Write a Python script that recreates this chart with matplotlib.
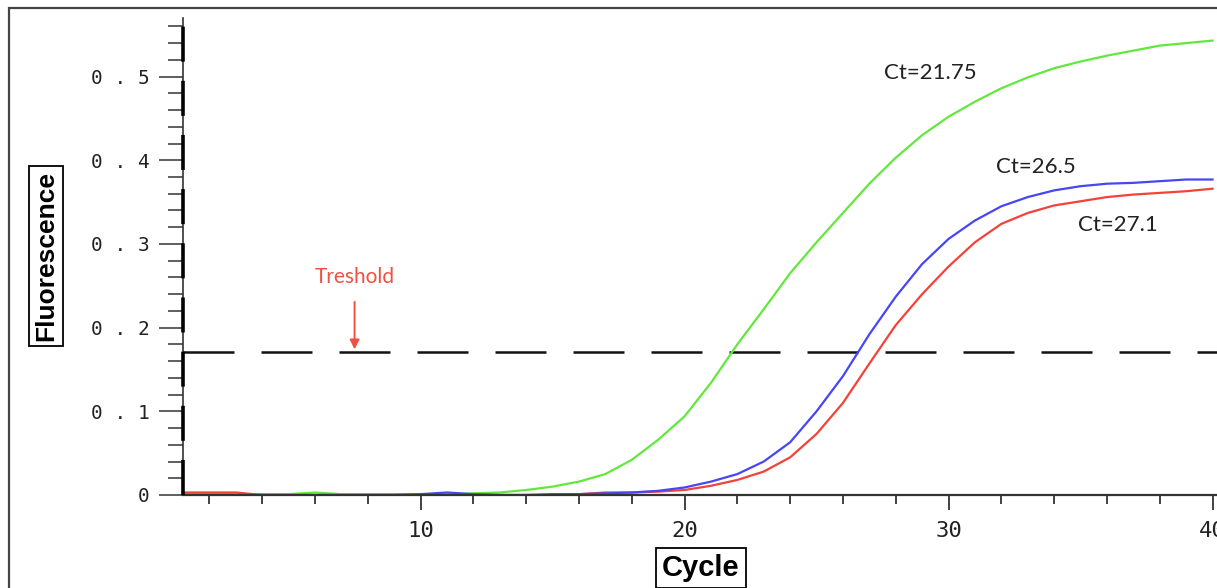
import matplotlib
matplotlib.use('Agg')
import matplotlib.pyplot as plt
from matplotlib.patches import Rectangle
from matplotlib.ticker import MultipleLocator
from matplotlib import font_manager

# cycles 1..40 and fluorescence
cycles = list(range(1, 41))
green = [0.001, 0.001, 0.001, 0.001, 0.001, 0.003, 0.001, 0.001, 0.001, 0.001,
         0.001, 0.002, 0.003, 0.006, 0.010, 0.016, 0.025, 0.042, 0.066, 0.094,
         0.134, 0.180, 0.222, 0.265, 0.302, 0.337, 0.372, 0.403, 0.430, 0.452,
         0.470, 0.486, 0.499, 0.510, 0.518, 0.525, 0.531, 0.537, 0.540, 0.543]
blue = [0.000, 0.000, 0.000, 0.000, 0.000, 0.000, 0.000, 0.000, 0.000, 0.001,
        0.003, 0.001, 0.000, 0.000, 0.001, 0.001, 0.002, 0.003, 0.005, 0.009,
        0.016, 0.025, 0.040, 0.063, 0.100, 0.142, 0.192, 0.237, 0.276, 0.306,
        0.328, 0.345, 0.356, 0.364, 0.369, 0.372, 0.373, 0.375, 0.377, 0.377]
red = [0.003, 0.003, 0.003, 0.000, 0.000, 0.000, 0.000, 0.000, 0.000, 0.000,
       0.000, 0.000, 0.000, 0.000, 0.000, 0.001, 0.003, 0.003, 0.004, 0.006,
       0.011, 0.018, 0.028, 0.045, 0.073, 0.110, 0.157, 0.203, 0.240, 0.273,
       0.302, 0.324, 0.337, 0.346, 0.351, 0.356, 0.359, 0.361, 0.363, 0.366]

threshold = 0.171
ct_labels = ['Ct=21.75', 'Ct=26.5', 'Ct=27.1']
ct_pos = [(27.55, 0.504), (31.8, 0.392), (34.9, 0.323)]

yticks = [0, 0.1, 0.2, 0.3, 0.4, 0.5]
ytick_labels = ['0', '0 . 1', '0 . 2', '0 . 3', '0 . 4', '0 . 5']
xticks = [10, 20, 30, 40]

# narrow bold face for the y title if the system has it
names = {f.name for f in font_manager.fontManager.ttflist}
title_font = 'Liberation Sans Narrow' if 'Liberation Sans Narrow' in names else 'Liberation Sans'
title_size = 23 if title_font == 'Liberation Sans Narrow' else 19

W, H = 1217, 588
fig = plt.figure(figsize=(W / 100, H / 100), dpi=100)
ax = fig.add_axes([183 / W, 1 - 495 / H, 1 - 183 / W, (495 - 18) / H])

ax.plot(cycles, green, color='#62e83c', lw=1.6)
ax.plot(cycles, red, color='#f4423a', lw=1.6)
ax.plot(cycles, blue, color='#4646f6', lw=1.6)

ax.axhline(threshold, color='#111111', lw=1.8, ls=(0, (20.4, 10.8)), zorder=1)

ax.set_xlim(1, 40.17)
ax.set_ylim(0, 0.57)

# thick broken bar along the y axis
ax.axvline(1, color='black', lw=2.6, ls=(0, (9.7, 5.3)), solid_capstyle='butt',
           zorder=4, clip_on=False)

for s in ['top', 'right']:
    ax.spines[s].set_visible(False)
ax.spines['left'].set_linewidth(1.2)
ax.spines['left'].set_color('#333333')
ax.spines['bottom'].set_linewidth(1.6)
ax.spines['bottom'].set_color('#333333')

ax.set_xticks(xticks)
ax.set_xticklabels([str(t) for t in xticks])
ax.xaxis.set_minor_locator(MultipleLocator(2))
ax.set_yticks(yticks)
ax.set_yticklabels(ytick_labels)
ax.yaxis.set_minor_locator(MultipleLocator(0.02))

mono = 'DejaVu Sans Mono'
ax.tick_params(axis='x', which='major', length=11, width=1.3, color='#333333',
               pad=8, labelsize=16, labelcolor='#222222')
ax.tick_params(axis='x', which='minor', length=6.5, width=1.3, color='#333333')
ax.tick_params(axis='y', which='major', length=17, width=1.1, color='#333333',
               pad=7, labelsize=14, labelcolor='#222222')
ax.tick_params(axis='y', which='minor', length=11, width=1.1, color='#333333')
for lab in ax.get_xticklabels() + ax.get_yticklabels():
    lab.set_family(mono)

# Ct labels
for txt, (cx, cy) in zip(ct_labels, ct_pos):
    ax.text(cx, cy, txt, ha='left', va='center', fontsize=16, family='Lato',
            color='#222222')

# threshold annotation
ax.annotate('Treshold', xy=(7.5, 0.174), xytext=(7.5, 0.261),
            ha='center', va='center', fontsize=15, family='Lato',
            color='#f05040',
            arrowprops=dict(arrowstyle='-|>', color='#f05040', lw=1.4,
                            mutation_scale=14, shrinkA=9, shrinkB=0))

# boxed axis titles
fig.text(46 / W, 1 - 256 / H, 'Fluorescence', rotation=90, ha='center',
         va='center', fontsize=title_size, fontweight='bold', family=title_font,
         bbox=dict(boxstyle='square,pad=0.2', fc='white', ec='black', lw=1.3))
fig.text(701 / W, 1 - 568 / H, 'Cycle', ha='center', va='center',
         fontsize=21, fontweight='bold', family='Liberation Sans',
         bbox=dict(boxstyle='square,pad=0.2', fc='white', ec='black', lw=1.3))

# outer frame of the original screenshot
fig.patches.append(Rectangle((8.5 / W, -0.1), 1.2, 1.1 - 8.5 / H,
                             transform=fig.transFigure, fill=False,
                             ec='#444444', lw=1.6))

fig.savefig('out.png', dpi=100)
